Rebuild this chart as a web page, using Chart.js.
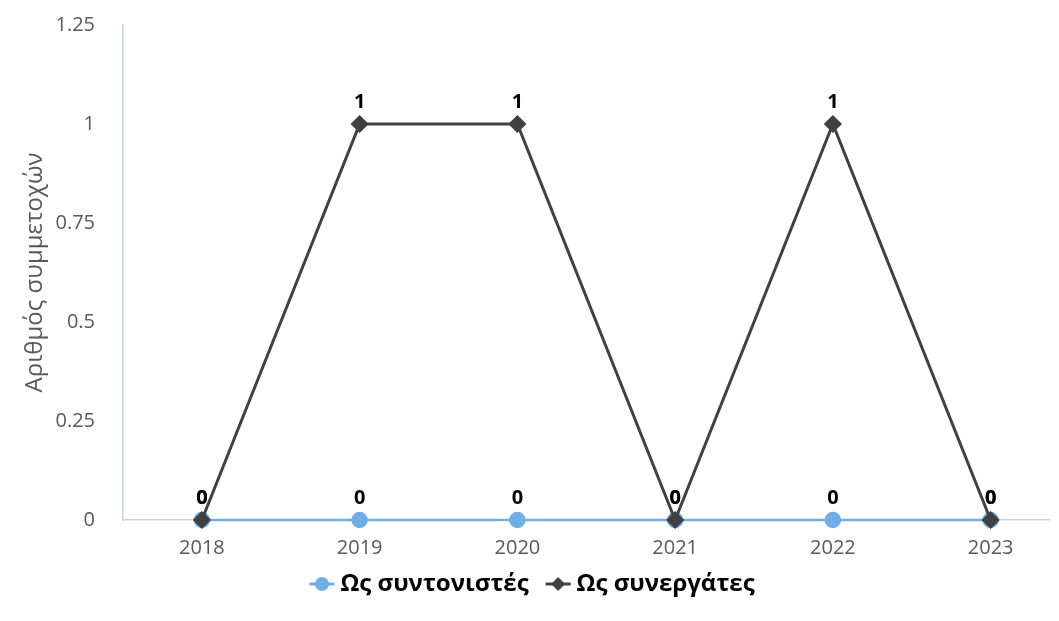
<!DOCTYPE html>
<html>
<head>
<meta charset="utf-8">
<script src="https://cdn.jsdelivr.net/npm/chart.js@4/dist/chart.umd.min.js"></script>
<style>
  html, body { margin: 0; padding: 0; background: #fff; }
  #wrap { width: 1059px; height: 621px; }
</style>
</head>
<body>
<div id="wrap"><canvas id="chart"></canvas></div>
<script>
const years = [2018, 2019, 2020, 2021, 2022, 2023]
const coordinators = [0, 0, 0, 0, 0, 0]
const partners = [0, 1, 1, 0, 1, 0]
const yTicks = [0, 0.25, 0.5, 0.75, 1, 1.25]

const seriesNames = ['Ως συντονιστές', 'Ως συνεργάτες']
const blue = '#6FAEE6'
const dark = '#404040'
const fontFamily = '"Open Sans", "DejaVu Sans", sans-serif'

// legend icon: short line with the marker; drawn in the right part of a wider image
// so that it sits close to its text
const makeIcon = (color, style) => {
    const c = document.createElement('canvas')
    c.width = 48
    c.height = 18
    const ctx = c.getContext('2d')
    ctx.strokeStyle = color
    ctx.lineWidth = 3
    ctx.beginPath()
    ctx.moveTo(17, 9)
    ctx.lineTo(42, 9)
    ctx.stroke()
    ctx.fillStyle = color
    ctx.beginPath()
    if (style === 'circle') {
        ctx.arc(29.5, 9, 7, 0, Math.PI * 2)
    } else {
        ctx.moveTo(29.5, 2)
        ctx.lineTo(36.5, 9)
        ctx.lineTo(29.5, 16)
        ctx.lineTo(22.5, 9)
        ctx.closePath()
    }
    ctx.fill()
    return c
}

const valueLabels = {
    id: 'valueLabels',
    afterDatasetsDraw(chart) {
        const ctx = chart.ctx
        ctx.save()
        ctx.font = 'bold 20px ' + fontFamily
        ctx.fillStyle = '#000'
        ctx.textAlign = 'center'
        ctx.textBaseline = 'middle'
        chart.data.datasets.forEach((ds, i) => {
            chart.getDatasetMeta(i).data.forEach((pt, j) => {
                ctx.fillText(String(ds.data[j].y), pt.x, pt.y - 22)
            })
        })
        ctx.restore()
    }
}

new Chart(document.getElementById('chart'), {
    type: 'line',
    data: {
        datasets: [
            {
                label: seriesNames[0],
                data: years.map((y, i) => ({ x: y, y: coordinators[i] })),
                borderColor: blue,
                backgroundColor: blue,
                borderWidth: 2.5,
                pointStyle: 'circle',
                pointRadius: 7,
                pointHoverRadius: 7,
                clip: false,
                order: 1
            },
            {
                label: seriesNames[1],
                data: years.map((y, i) => ({ x: y, y: partners[i] })),
                borderColor: dark,
                backgroundColor: dark,
                borderWidth: 3,
                pointStyle: 'rectRot',
                pointRadius: 7,
                pointHoverRadius: 7,
                clip: false,
                order: 0
            }
        ]
    },
    options: {
        responsive: true,
        maintainAspectRatio: false,
        animation: false,
        layout: { padding: { top: 25, right: 0, bottom: 15, left: 0 } },
        plugins: {
            tooltip: { enabled: false },
            legend: {
                position: 'bottom',
                labels: {
                    usePointStyle: true,
                    pointStyleWidth: 24,
                    padding: 12,
                    color: '#333',
                    font: { family: fontFamily, size: 24, weight: 'bold' },
                    generateLabels: () => [
                        { text: seriesNames[0], pointStyle: makeIcon(blue, 'circle'), fillStyle: blue, strokeStyle: blue, lineWidth: 0, datasetIndex: 0 },
                        { text: seriesNames[1], pointStyle: makeIcon(dark, 'diamond'), fillStyle: dark, strokeStyle: dark, lineWidth: 0, datasetIndex: 1 }
                    ]
                }
            }
        },
        scales: {
            x: {
                type: 'linear',
                min: years[0] - 0.5,
                max: years[years.length - 1] + 0.37,
                afterBuildTicks: (scale) => {
                    scale.ticks = years.map((v) => ({ value: v }))
                },
                grid: { display: false, drawTicks: true, tickLength: 16 },
                border: { color: '#C9D3DE', width: 1.5 },
                ticks: {
                    color: '#595959',
                    padding: 0,
                    font: { family: fontFamily, size: 20 },
                    callback: (v) => String(v)
                }
            },
            y: {
                min: 0,
                max: 1.25,
                afterBuildTicks: (scale) => {
                    scale.ticks = yTicks.map((v) => ({ value: v }))
                },
                afterFit: (scale) => {
                    scale.width = 123
                },
                grid: { display: false, drawTicks: true, tickLength: 24 },
                border: { color: '#C9D3DE', width: 1.5 },
                ticks: {
                    color: '#595959',
                    padding: 4,
                    font: { family: fontFamily, size: 20 },
                    callback: (v) => String(v)
                },
                title: {
                    display: true,
                    text: 'Αριθμός συμμετοχών',
                    color: '#595959',
                    padding: { top: 21, bottom: 0 },
                    font: { family: fontFamily, size: 24 }
                }
            }
        }
    },
    plugins: [valueLabels]
})
</script>
</body>
</html>
